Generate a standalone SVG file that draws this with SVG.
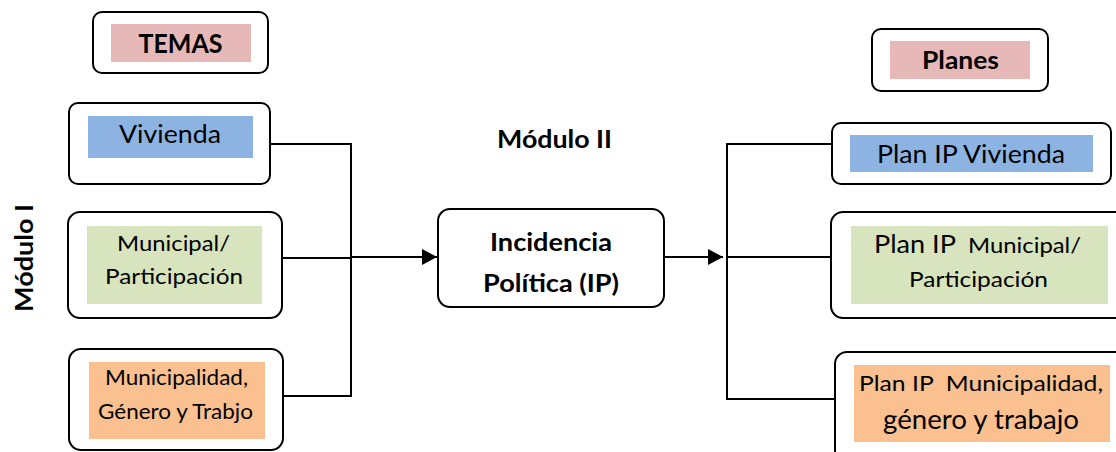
<svg xmlns="http://www.w3.org/2000/svg" width="1116" height="452" viewBox="0 0 1116 452">
<defs>
<style>
.box{fill:#fff;stroke:#000;stroke-width:2}
.pink{fill:#E6B8B7}.blue{fill:#8DB3E2}.green{fill:#D7E4BD}.orange{fill:#FAC090}
text{font-family:Lato,"Open Sans","Liberation Sans",sans-serif;fill:#000}
.b{font-weight:bold}
.c{text-anchor:middle}
.ln{fill:none;stroke:#000;stroke-width:2}
</style>
<marker id="ah" markerWidth="16" markerHeight="16" refX="15" refY="8" orient="auto" markerUnits="userSpaceOnUse">
<path d="M0,0 L15,8 L0,16 Z" fill="#000"/>
</marker>
</defs>
<rect width="1116" height="452" fill="#fff"/>
<g id="connectors">
<path class="ln" d="M270,144 H351 V396 H283"/>
<path class="ln" d="M282,258 H351"/>
<path class="ln" d="M351,257 H437" marker-end="url(#ah)"/>
<path class="ln" d="M664,257 H723" marker-end="url(#ah)"/>
<path class="ln" d="M832,144 H727 V399 H835"/>
<path class="ln" d="M727,257 H831"/>
</g>
<g id="temas">
<rect class="box" x="93" y="12" width="175" height="61" rx="9"/>
<rect class="pink" x="111" y="24" width="140" height="38"/>
<text class="b c" x="180.5" y="53" font-size="27" textLength="84" lengthAdjust="spacingAndGlyphs">TEMAS</text>
</g>
<g id="vivienda">
<rect class="box" x="69" y="103" width="201" height="81" rx="9"/>
<rect class="blue" x="88" y="116" width="165" height="42"/>
<text class="c" x="170" y="143" font-size="25" textLength="102" lengthAdjust="spacingAndGlyphs">Vivienda</text>
</g>
<g id="municipal">
<rect class="box" x="68" y="212" width="214" height="106" rx="12"/>
<rect class="green" x="87" y="226" width="175" height="78"/>
<text class="c" x="173.5" y="251" font-size="22" textLength="113" lengthAdjust="spacingAndGlyphs">Municipal/</text>
<text class="c" x="174" y="284" font-size="22" textLength="138" lengthAdjust="spacingAndGlyphs">Participación</text>
</g>
<g id="municipalidad">
<rect class="box" x="69" y="349" width="214" height="101" rx="12"/>
<rect class="orange" x="89" y="362" width="176" height="77"/>
<text class="c" x="176.5" y="385" font-size="21" textLength="143" lengthAdjust="spacingAndGlyphs">Municipalidad,</text>
<text class="c" x="175.5" y="419" font-size="21" textLength="155" lengthAdjust="spacingAndGlyphs">Género y Trabjo</text>
</g>
<g id="modulo1">
<text class="b c" transform="translate(33,258) rotate(-90)" font-size="25" textLength="108" lengthAdjust="spacingAndGlyphs">Módulo I</text>
</g>
<g id="modulo2">
<text class="b c" x="554.5" y="148" font-size="25" textLength="115" lengthAdjust="spacingAndGlyphs">Módulo II</text>
</g>
<g id="incidencia">
<rect class="box" x="438" y="209" width="226" height="98" rx="12"/>
<text class="b c" x="551" y="251" font-size="25" textLength="122" lengthAdjust="spacingAndGlyphs">Incidencia</text>
<text class="b c" x="551" y="292" font-size="25" textLength="136" lengthAdjust="spacingAndGlyphs">Política (IP)</text>
</g>
<g id="planes">
<rect class="box" x="872" y="29" width="176" height="62" rx="9"/>
<rect class="pink" x="890" y="41" width="140" height="38"/>
<text class="b c" x="960.5" y="69" font-size="25" textLength="77" lengthAdjust="spacingAndGlyphs">Planes</text>
</g>
<g id="plan-vivienda">
<rect class="box" x="832" y="123" width="279" height="61" rx="9"/>
<rect class="blue" x="850" y="135" width="243" height="37"/>
<text class="c" x="971" y="163" font-size="25" textLength="188" lengthAdjust="spacingAndGlyphs">Plan IP Vivienda</text>
</g>
<g id="plan-municipal">
<rect class="box" x="831" y="212" width="300" height="106" rx="12"/>
<rect class="green" x="851" y="226" width="257" height="78"/>
<text x="874" y="253" font-size="25" textLength="207" lengthAdjust="spacingAndGlyphs">Plan IP<tspan font-size="22">&#160; Municipal/</tspan></text>
<text class="c" x="978.5" y="287" font-size="22" textLength="139" lengthAdjust="spacingAndGlyphs">Participación</text>
</g>
<g id="plan-municipalidad">
<rect class="box" x="835" y="352" width="300" height="110" rx="12"/>
<rect class="orange" x="854" y="365" width="256" height="77"/>
<text x="859" y="391" font-size="22" textLength="244" lengthAdjust="spacingAndGlyphs">Plan IP&#160; Municipalidad,</text>
<text class="c" x="981" y="429" font-size="26" textLength="196" lengthAdjust="spacingAndGlyphs">género y trabajo</text>
</g>
</svg>
